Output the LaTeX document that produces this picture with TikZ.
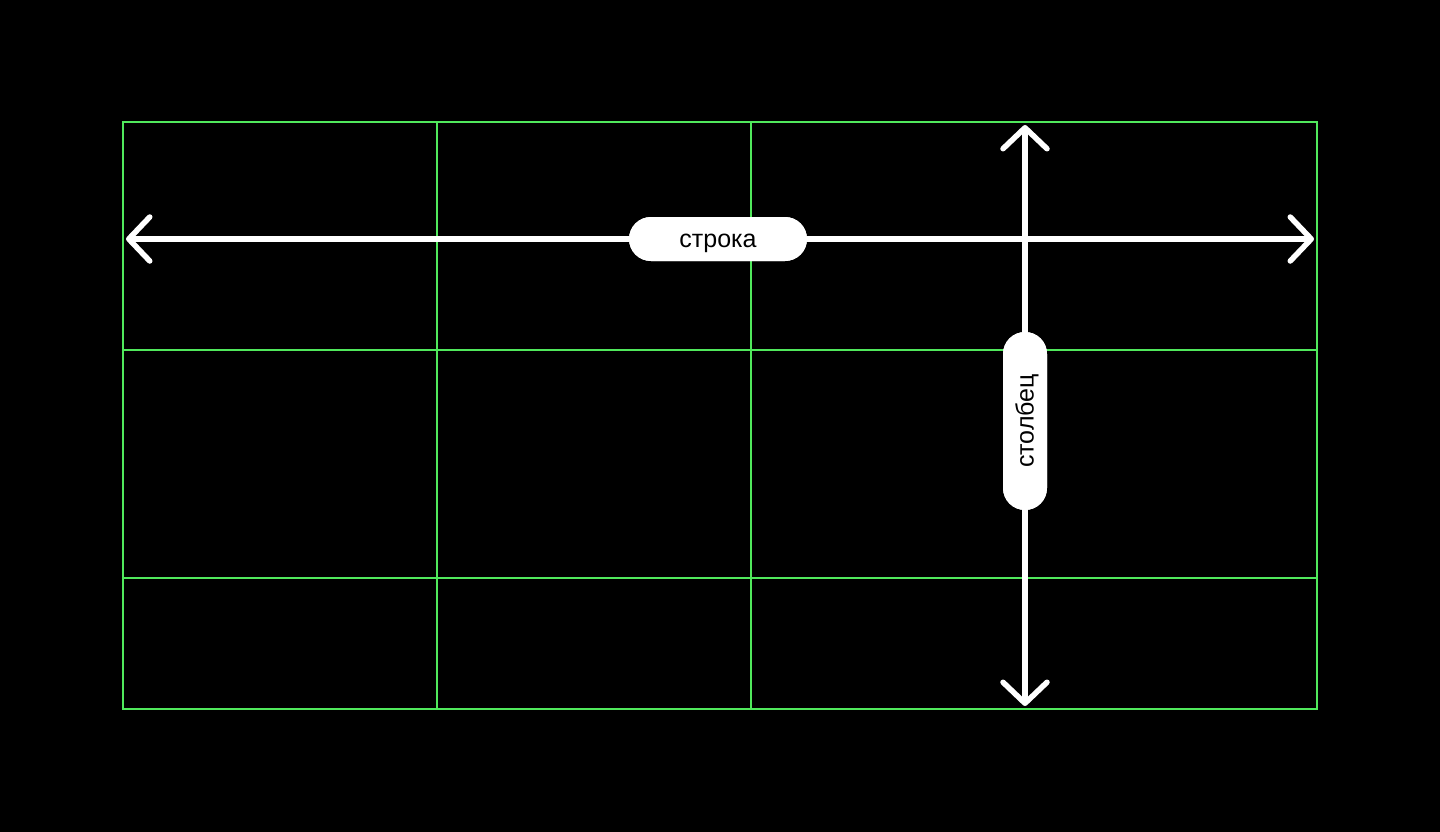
\documentclass[tikz,border=0pt]{standalone}
\usepackage{fontspec}
\setmainfont{Liberation Sans}
\usetikzlibrary{arrows.meta}
\definecolor{gridgreen}{RGB}{80,232,92}
\begin{document}
\begin{tikzpicture}[x=1pt,y=-1pt,
    cell/.style={draw=gridgreen, line width=2.8pt},
    pill/.style={fill=white, rounded corners=22pt, inner sep=0pt, minimum height=44pt, minimum width=178pt,
        text height=17pt, text depth=0pt, font=\fontsize{25}{30}\selectfont},
    arr/.style={draw=white, line width=5.5pt, line cap=round, -{Straight Barb[length=21pt,width=44pt,round]}}]
    \fill[black] (0,0) rectangle (1440,832);
    \useasboundingbox (0,0) rectangle (1440,832);
    \draw[cell] (123,122) rectangle (1317,709);
    \draw[cell] (437,122) -- (437,709) (751,122) -- (751,709);
    \draw[cell] (123,350) -- (1317,350) (123,578) -- (1317,578);
    \coordinate (L) at (126,239);
    \coordinate (R) at (1314,239);
    \coordinate (T) at (1025,125);
    \coordinate (B) at (1025,706);
    \node[pill] (row) at (718,239) {строка};
    \node[pill, rotate=90] (col) at (1025,421) {столбец};
    \draw[arr] (row) edge (L) (row) edge (R);
    \draw[arr] (col) edge (T) (col) edge (B);
    \node[pill] at (row) {строка};
    \node[pill, rotate=90] at (col) {столбец};
\end{tikzpicture}
\end{document}
